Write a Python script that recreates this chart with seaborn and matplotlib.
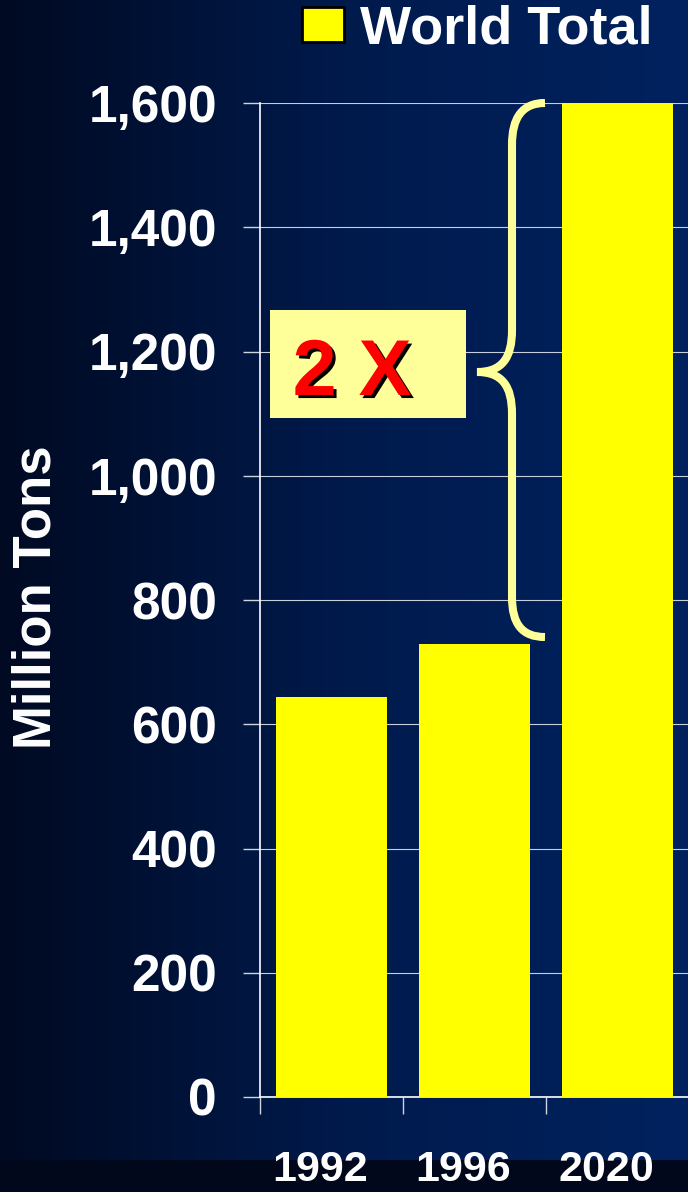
import numpy as np
import pandas as pd
import matplotlib
matplotlib.use("Agg")
import matplotlib.pyplot as plt
import matplotlib.patheffects as pe
import matplotlib.transforms as mtransforms
from matplotlib.path import Path
from matplotlib.patches import PathPatch, Rectangle, Patch
from matplotlib.colors import LinearSegmentedColormap
import seaborn as sns

years = ["1992", "1996", "2020"]
world_total = [644, 729, 1600]
series_name = "World Total"
y_ticks = [0, 200, 400, 600, 800, 1000, 1200, 1400, 1600]
y_labels = ["0", "200", "400", "600", "800", "1,000", "1,200", "1,400", "1,600"]

df = pd.DataFrame({"Year": years, "Total": world_total})

sns.set_theme(style="dark")
plt.rcParams['font.family'] = ['Liberation Sans', 'DejaVu Sans']
plt.rcParams['font.weight'] = 'bold'

W, H = 688, 1192
fig = plt.figure(figsize=(W / 100, H / 100), dpi=100)

# background gradient (dark navy -> blue)
bg = fig.add_axes([0, 0, 1, 1], zorder=-10)
cmap = LinearSegmentedColormap.from_list("bg", ["#010a22", "#001a4c", "#00225f"])
bg.imshow(np.linspace(0, 1, 256).reshape(1, -1), cmap=cmap, aspect="auto",
          extent=[0, 1, 0, 1])
bg.add_patch(Rectangle((0, 0), 1, 32 / H, color="#02081c", lw=0))
bg.set_xlim(0, 1)
bg.set_ylim(0, 1)
bg.axis("off")

# plot area: 260..689 px wide, 103..1097 px tall
ax = fig.add_axes([260 / W, (H - 1097) / H, 429 / W, 994 / H])
ax.set_facecolor("none")

sns.barplot(data=df, x="Year", y="Total", color="#ffff00", saturation=1,
            width=0.77, edgecolor="none", ax=ax, zorder=3)

ax.set_xlim(-0.5, 2.5)
ax.set_ylim(0, 1600)
ax.set_yticks(y_ticks)
ax.set_yticklabels(y_labels)
ax.grid(axis="y", color="#c8cedc", linewidth=0.8, zorder=0)
ax.set_axisbelow(True)

# x tick marks on category boundaries, labels at the centres
ax.set_xticks([-0.5, 0.5, 1.5])
ax.set_xticklabels([])
ax.set_xticks([0, 1, 2], minor=True)
ax.set_xticklabels(years, minor=True)
ax.tick_params(axis="x", which="major", length=12, width=1, color="#d0d4de",
               direction="out", bottom=True)
ax.tick_params(axis="x", which="minor", length=0, pad=38, labelsize=31,
               labelcolor="white")
ax.tick_params(axis="y", length=12, width=1, color="#d0d4de", direction="out",
               left=True, pad=19, labelsize=37, labelcolor="white")
shift = mtransforms.ScaledTranslation(-0.11, 0, fig.dpi_scale_trans)
for lab in ax.get_xticklabels(minor=True):
    lab.set_fontweight("bold")
    lab.set_transform(lab.get_transform() + shift)
for lab in ax.get_yticklabels():
    lab.set_fontweight("bold")

ax.set_xlabel("")
ax.set_ylabel("")
for side in ["top", "right"]:
    ax.spines[side].set_visible(False)
for side in ["left", "bottom"]:
    ax.spines[side].set_visible(True)
    ax.spines[side].set_color("white")
    ax.spines[side].set_linewidth(1.2)

fig.text(37 / W, 1 - 597 / H, "Million Tons", rotation=90, ha="center",
         va="center", color="white", fontsize=38, fontweight="bold")

# legend at the top
handle = Patch(facecolor="#ffff00", edgecolor="black", linewidth=2, label=series_name)
leg = fig.legend(handles=[handle], loc="upper left",
                 bbox_to_anchor=(302 / W, 1 - 5 / H),
                 frameon=False, fontsize=39, labelcolor="white", borderpad=0,
                 borderaxespad=0, handlelength=0.78, handleheight=0.62,
                 handletextpad=0.3)
for t in leg.get_texts():
    t.set_fontweight("bold")


def px(x, y):
    # pixel position -> data coordinates of ax
    return (-0.5 + (x - 260) / 143, (1097 - y) / 0.62125)


# "2 X" box
x0, y0 = px(270, 418)
x1, y1 = px(466, 310)
ax.add_patch(Rectangle((x0, y0), x1 - x0, y1 - y0, facecolor="#ffff99",
                       edgecolor="none", zorder=4))
tx, ty = px(352, 395)
ax.text(tx, ty, "2 X", ha="center", va="baseline", color="#ff0000", fontsize=57,
        fontweight="bold", zorder=5,
        path_effects=[pe.withSimplePatchShadow(offset=(2.2, -2.2),
                                               shadow_rgbFace="black", alpha=1)])

# curly brace
pts = [(545, 103), (522, 103), (512, 118), (512, 145),
       (512, 330),
       (512, 358), (502, 372), (477, 372),
       (502, 372), (512, 386), (512, 414),
       (512, 597),
       (512, 624), (522, 637), (545, 637)]
codes = [Path.MOVETO, Path.CURVE4, Path.CURVE4, Path.CURVE4,
         Path.LINETO,
         Path.CURVE4, Path.CURVE4, Path.CURVE4,
         Path.CURVE4, Path.CURVE4, Path.CURVE4,
         Path.LINETO,
         Path.CURVE4, Path.CURVE4, Path.CURVE4]
brace = Path([px(*p) for p in pts], codes)
ax.add_patch(PathPatch(brace, facecolor="none", edgecolor="#ffff99",
                       linewidth=5.8, capstyle="butt", zorder=4, clip_on=False))

fig.savefig("out.png", dpi=100)
